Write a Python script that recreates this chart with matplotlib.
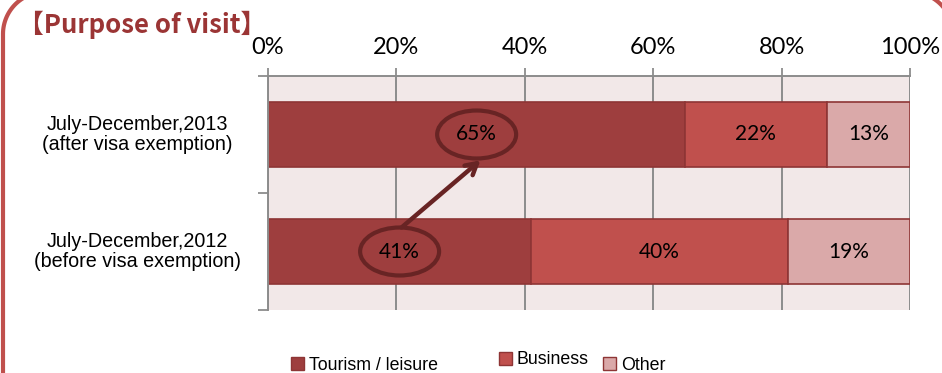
import matplotlib
matplotlib.use("Agg")
import matplotlib.pyplot as plt
from matplotlib.lines import Line2D
from matplotlib.patches import Ellipse, Patch
from matplotlib.transforms import IdentityTransform, blended_transform_factory
import numpy as np

periods = ["July-December,2012\n(before visa exemption)", "July-December,2013\n(after visa exemption)"]
tourism = [41, 65]
business = [40, 22]
other = [19, 13]
series_names = ["Tourism / leisure", "Business", "Other"]
series_colors = ["#9E3E3E", "#C0504D", "#DAA9A9"]
xticks = [0, 20, 40, 60, 80, 100]

fig = plt.figure(figsize=(9.42, 3.73), dpi=100)
ax = fig.add_axes([268 / 942, 63 / 373, 642 / 942, 234 / 373])
ax.set_facecolor("#F2E8E8")

y = np.arange(len(periods))
left = np.zeros(len(periods))
for vals, name, col in zip([tourism, business, other], series_names, series_colors):
    ax.barh(y, vals, left=left, height=0.56, color=col, edgecolor="#8E3535",
            linewidth=1.2, label=name, zorder=2)
    for yi, (l, v) in enumerate(zip(left, vals)):
        ax.text(l + v / 2, yi, f"{v}%", ha="center", va="center",
                fontsize=15, family="Lato", color="black", zorder=5)
    left = left + np.array(vals)

ax.set_xlim(0, 100)
ax.set_ylim(-0.5, 1.5)
ax.xaxis.tick_top()
ax.set_xticks(xticks)
ax.set_xticklabels([f"{t}%" for t in xticks], family="Lato", fontsize=17)
ax.tick_params(axis="x", direction="out", length=6, width=1.3, color="#8C8C8C", pad=7)
ax.set_yticks([-0.5, 0.5, 1.5])
ax.set_yticklabels([])
ax.tick_params(axis="y", direction="out", length=7, width=1.3, color="#8C8C8C")
ax.grid(axis="x", color="#8C8C8C", linewidth=1.4, zorder=1)
ax.set_axisbelow(True)
for s in ["right", "bottom"]:
    ax.spines[s].set_visible(False)
for s in ["left", "top"]:
    ax.spines[s].set_color("#8C8C8C")
    ax.spines[s].set_linewidth(1.4)

# category labels, centred to the left of the axes
trans = blended_transform_factory(ax.transAxes, ax.transData)
for yi, lab in enumerate(periods):
    ax.text(-0.204, yi, lab, transform=trans, ha="center", va="center",
            multialignment="center", fontsize=14.2, family="Liberation Sans",
            linespacing=1.1)

# circled tourism shares and arrow between them
ring = "#682424"
ax.add_patch(Ellipse((tourism[1] / 2, 1), 12.3, 0.41, fill=False,
                     edgecolor=ring, linewidth=3, zorder=4))
ax.add_patch(Ellipse((tourism[0] / 2, 0), 12.3, 0.41, fill=False,
                     edgecolor=ring, linewidth=3, zorder=4))
ax.annotate("", xy=(tourism[1] / 2 + 0.6, 1 - 0.22), xytext=(tourism[0] / 2 + 0.3, 0.205),
            arrowprops=dict(arrowstyle="->,head_length=0.8,head_width=0.45",
                            color=ring, linewidth=3.2,
                            shrinkA=0, shrinkB=0), zorder=4)

# rounded frame (pixel coords, origin bottom left); top and right run off the canvas
x0, x1, top, r = 3, 953, 381, 42
t = np.linspace(0, np.pi / 2, 30)
fx = np.concatenate([[x0], x0 + r - r * np.cos(t), x1 - r + r * np.sin(t), [x1]])
fy = np.concatenate([[-10], top - r + r * np.sin(t), top - r + r * np.cos(t), [-10]])
fig.lines.append(Line2D(fx, fy, transform=IdentityTransform(), color="#C0504D",
                        linewidth=3, solid_joinstyle="round"))

fig.text(18 / 942, 1 - 25 / 373, "【Purpose of visit】", ha="left", va="center",
         fontsize=18.5, fontweight="bold", color="#9B3535",
         family=["Noto Sans CJK JP", "DejaVu Sans"])

# legend entries placed one by one, their spacing is uneven
legend_x = [291, 499, 603]
legend_y = [365, 360, 365]
for name, col, lx, ly in zip(series_names, series_colors, legend_x, legend_y):
    fig.legend([Patch(facecolor=col, edgecolor="#8E3535")], [name], loc="center left",
               bbox_to_anchor=(lx / 942, 1 - ly / 373), frameon=False,
               prop={"family": "Liberation Sans", "size": 12.8},
               handlelength=0.75, handleheight=0.75, handletextpad=0.25,
               borderpad=0, borderaxespad=0)

fig.savefig("out.png", dpi=100)
